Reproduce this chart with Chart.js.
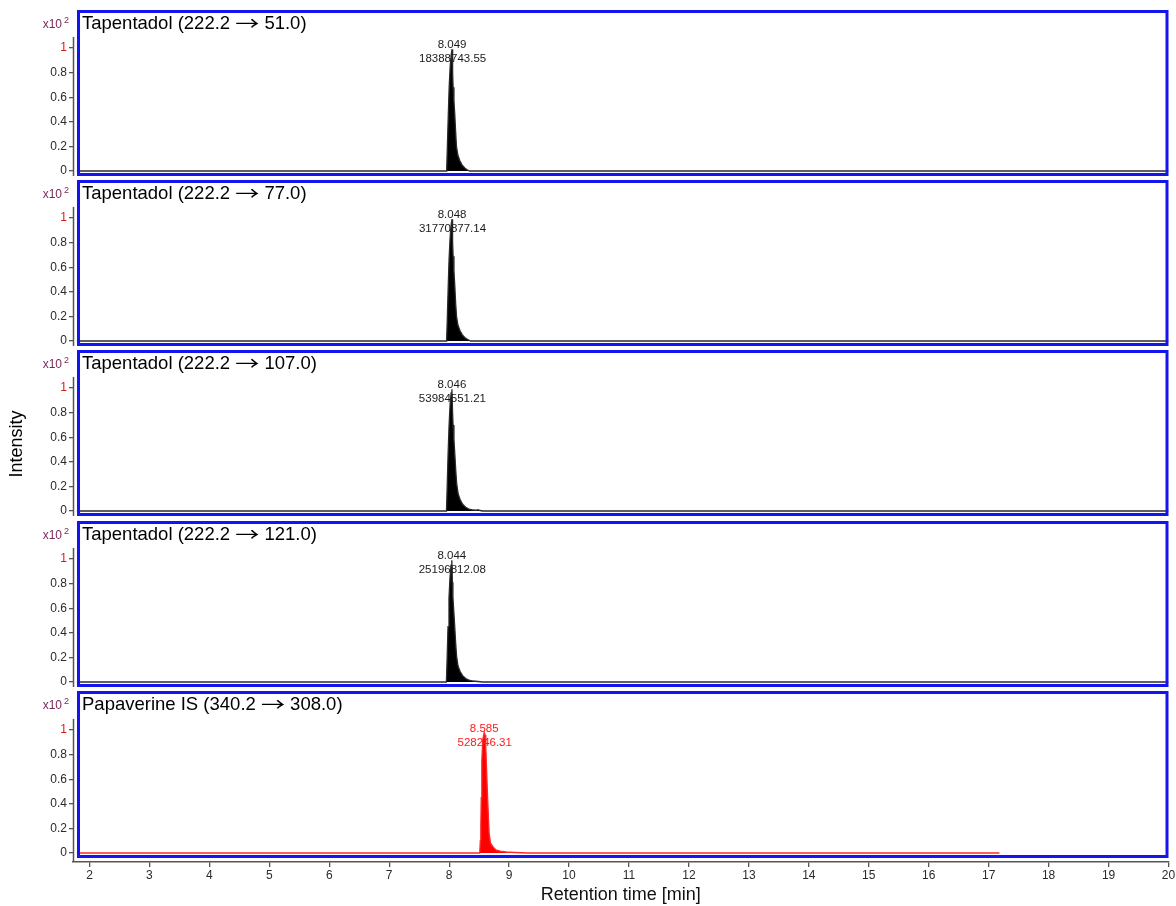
<!DOCTYPE html>
<html>
<head>
<meta charset="utf-8">
<script src="https://cdn.jsdelivr.net/npm/chart.js@4.4.0/dist/chart.umd.min.js"></script>
<style>
  html, body { margin: 0; padding: 0; background: #ffffff; }
  #wrap { position: relative; width: 1176px; height: 906px; overflow: hidden; background: #ffffff; }
  #wrap canvas { position: absolute; left: 0; }
</style>
</head>
<body>
<div id="wrap"></div>
<script>
// ---- Chromatogram data (retention time in min, intensity in x10^2 units) ----
const panelTitles = [
  'Tapentadol (222.2 \u2192 51.0)',
  'Tapentadol (222.2 \u2192 77.0)',
  'Tapentadol (222.2 \u2192 107.0)',
  'Tapentadol (222.2 \u2192 121.0)',
  'Papaverine IS (340.2 \u2192 308.0)'
];
const peakTimes = [8.049, 8.048, 8.046, 8.044, 8.585];
const peakAreas = ['18388743.55', '31770877.14', '53984551.21', '25196812.08', '528246.31'];

const timeTap51 = [1.79, 7.958, 7.970, 7.985, 8.000, 8.018, 8.035, 8.049, 8.058, 8.066, 8.080, 8.094, 8.108, 8.122, 8.145, 8.177, 8.215, 8.260, 8.300, 8.340, 20.0];
const intTap51  = [0,    0,     0.20,  0.45,  0.68,  0.86,  0.95,  0.99,  0.80,  0.68,  0.57,  0.46,  0.32,  0.20,  0.13,  0.085, 0.050, 0.025, 0.010, 0,     0];

const timeTap77 = [1.79, 7.957, 7.969, 7.984, 7.999, 8.017, 8.034, 8.048, 8.057, 8.066, 8.080, 8.094, 8.108, 8.123, 8.146, 8.180, 8.220, 8.265, 8.310, 8.360, 20.0];
const intTap77  = [0,    0,     0.18,  0.44,  0.67,  0.85,  0.95,  0.99,  0.81,  0.69,  0.57,  0.45,  0.31,  0.20,  0.13,  0.085, 0.050, 0.027, 0.012, 0,     0];

const timeTap107 = [1.79, 7.955, 7.967, 7.982, 7.998, 8.016, 8.033, 8.046, 8.056, 8.065, 8.080, 8.095, 8.110, 8.126, 8.150, 8.185, 8.225, 8.275, 8.330, 8.400, 8.460, 8.480, 8.520, 8.560, 20.0];
const intTap107  = [0,    0,     0.20,  0.46,  0.69,  0.87,  0.96,  0.99,  0.82,  0.70,  0.58,  0.46,  0.33,  0.22,  0.14,  0.090, 0.055, 0.030, 0.016, 0.008, 0.006, 0.010, 0.004, 0,     0];

const timeTap121 = [1.79, 7.954, 7.966, 7.981, 7.997, 8.015, 8.031, 8.044, 8.054, 8.063, 8.078, 8.093, 8.108, 8.124, 8.148, 8.183, 8.225, 8.275, 8.330, 8.400, 8.480, 8.560, 20.0];
const intTap121  = [0,    0,     0.19,  0.45,  0.68,  0.86,  0.95,  0.99,  0.81,  0.69,  0.57,  0.45,  0.32,  0.21,  0.13,  0.085, 0.052, 0.028, 0.015, 0.008, 0.004, 0,     0];

const timePap = [1.79, 8.510, 8.520, 8.528, 8.535, 8.545, 8.560, 8.585, 8.600, 8.612, 8.623, 8.636, 8.650, 8.667, 8.690, 8.733, 8.780, 8.850, 8.950, 9.100, 9.300, 17.18];
const intPap  = [0,    0,     0.10,  0.21,  0.45,  0.75,  0.92,  0.98,  0.96,  0.85,  0.70,  0.52,  0.35,  0.16,  0.08,  0.05,  0.025, 0.015, 0.008, 0.004, 0,     0];

const panelTimes = [timeTap51, timeTap77, timeTap107, timeTap121, timePap];
const panelInts  = [intTap51, intTap77, intTap107, intTap121, intPap];

const xTickValues = [2, 3, 4, 5, 6, 7, 8, 9, 10, 11, 12, 13, 14, 15, 16, 17, 18, 19, 20];
const yTickValues = [0, 0.2, 0.4, 0.6, 0.8, 1];

// ---- Layout ----
const FONT = '"Liberation Sans", Arial, Helvetica, sans-serif';
const W = 1176;
const X_MIN = 1.725, X_MAX = 20;
const PX_PER_UNIT_Y = 123;              // pixel height of 1.0 on the intensity axis
const panelTop = [10, 180, 350, 521, 691];
const boxH = 166;                         // height of each framed panel
const baseOffset = [161, 161, 161, 161, 162]; // y=0 line measured from panel top
const lastAreaH = 171;                    // bottom panel plot area down to the time axis
const xAxisH = 44;
const BLUE = '#1414f0';
const AXIS_GRAY = '#555555';

// Title text with a long, thin arrow between the precursor and product ions
function drawPanelTitle(ctx, text, x, yBase) {
  const parts = text.split('\u2192');
  ctx.font = '18.5px ' + FONT;
  ctx.textAlign = 'left';
  ctx.textBaseline = 'alphabetic';
  ctx.fillText(parts[0], x, yBase);
  let cx = x + ctx.measureText(parts[0]).width;
  ctx.font = '18.5px "Noto Sans CJK JP", "DejaVu Sans", sans-serif';
  const aw = ctx.measureText('\u2192').width;
  const target = 24;
  ctx.save();
  ctx.translate(cx, yBase + 1);
  ctx.scale(target / aw, 1);
  ctx.fillText('\u2192', 0, 0);
  ctx.restore();
  cx += target;
  ctx.font = '18.5px ' + FONT;
  ctx.fillText(parts[1], cx, yBase);
}

const panelPlugin = {
  id: 'panelDecor',
  afterDatasetsDraw(chart, args, opts) {
    const { ctx, chartArea: a, scales } = chart;
    const y = scales.y;
    const x = scales.x;
    ctx.save();

    // vertical intensity axis line
    ctx.strokeStyle = AXIS_GRAY;
    ctx.lineWidth = 1.5;
    ctx.beginPath();
    ctx.moveTo(a.left + 0.5, y.getPixelForValue(1.09));
    ctx.lineTo(a.left + 0.5, opts.last ? a.bottom : a.bottom + 2);
    ctx.stroke();

    // blue panel frame
    const bl = a.left + 4, bt = a.top, br = a.right, bb = opts.last ? a.bottom - 4 : a.bottom;
    ctx.strokeStyle = BLUE;
    ctx.lineWidth = 3;
    ctx.strokeRect(bl + 1.5, bt + 1.5, br - bl - 3, bb - bt - 3);

    // panel title
    ctx.fillStyle = '#000000';
    drawPanelTitle(ctx, opts.title, bl + 5, bt + 19);

    // x10^2 exponent label
    ctx.fillStyle = '#7a2a5a';
    ctx.textBaseline = 'middle';
    ctx.font = '12px ' + FONT;
    ctx.textAlign = 'right';
    ctx.fillText('x10', 62, bt + 15);
    ctx.font = '9px ' + FONT;
    ctx.textAlign = 'left';
    ctx.fillText('2', 64, bt + 11);

    // peak annotation: retention time and area
    const px = x.getPixelForValue(opts.peakTime);
    const py = y.getPixelForValue(opts.peakY);
    ctx.fillStyle = opts.labelColor;
    ctx.font = '11.5px ' + FONT;
    ctx.textAlign = 'center';
    ctx.fillText(opts.peakTime.toFixed(3), px, py - 4);
    ctx.fillText(opts.area, px + 0.5, py + 10);

    // shared intensity axis title
    if (opts.yTitle) {
      ctx.translate(17, 444 - panelTop[2]);
      ctx.rotate(-Math.PI / 2);
      ctx.fillStyle = '#000000';
      ctx.font = '18px ' + FONT;
      ctx.textAlign = 'center';
      ctx.textBaseline = 'middle';
      ctx.fillText('Intensity', 0, 0);
    }
    ctx.restore();
  }
};

const wrap = document.getElementById('wrap');

for (let i = 0; i < 5; i++) {
  const last = i === 4;
  const canvas = document.createElement('canvas');
  const h = last ? lastAreaH + xAxisH : boxH;
  canvas.width = W;
  canvas.height = h;
  canvas.style.top = panelTop[i] + 'px';
  canvas.style.width = W + 'px';
  canvas.style.height = h + 'px';
  wrap.appendChild(canvas);

  const areaH = last ? lastAreaH : boxH;
  const yMax = baseOffset[i] / PX_PER_UNIT_Y;
  const yMin = -(areaH - baseOffset[i]) / PX_PER_UNIT_Y;

  const times = panelTimes[i];
  const ints = panelInts[i];
  const pts = times.map((t, k) => ({ x: t, y: ints[k] }));
  const apexIdx = times.indexOf(peakTimes[i]);

  const lineColor = last ? '#ff2a2a' : '#2b2b2b';
  const fillColor = last ? '#ff0000' : '#000000';

  new Chart(canvas, {
    type: 'line',
    data: {
      datasets: [{
        data: pts,
        borderColor: lineColor,
        borderWidth: 1.3,
        backgroundColor: fillColor,
        fill: 'origin',
        pointRadius: 0,
        tension: 0
      }]
    },
    options: {
      responsive: false,
      animation: false,
      devicePixelRatio: 1,
      layout: { padding: { left: 0, right: 7.5, top: 0, bottom: 0 } },
      plugins: {
        legend: { display: false },
        tooltip: { enabled: false },
        panelDecor: {
          last: last,
          title: panelTitles[i],
          peakTime: peakTimes[i],
          peakY: ints[apexIdx],
          area: peakAreas[i],
          labelColor: last ? '#ff1a1a' : '#1a1a1a',
          yTitle: i === 2
        }
      },
      scales: {
        x: {
          type: 'linear',
          min: X_MIN,
          max: X_MAX,
          display: last,
          afterBuildTicks: s => { s.ticks = xTickValues.map(v => ({ value: v })); },
          afterFit: s => {
            s.height = last ? xAxisH : 0;
            s.paddingLeft = 0;
            s.paddingRight = 0;
          },
          ticks: {
            autoSkip: false,
            maxRotation: 0,
            padding: 1,
            color: '#2a2a2a',
            font: { family: FONT, size: 12 },
            callback: v => String(v)
          },
          grid: { drawOnChartArea: false, drawTicks: true, tickLength: 5, color: AXIS_GRAY, lineWidth: 1.3 },
          border: { display: true, color: AXIS_GRAY, width: 1.5 },
          title: {
            display: true,
            text: 'Retention time [min]',
            color: '#111111',
            font: { family: FONT, size: 18 },
            padding: { top: 0, bottom: 0 }
          }
        },
        y: {
          min: yMin,
          max: yMax,
          afterBuildTicks: s => { s.ticks = yTickValues.map(v => ({ value: v })); },
          afterFit: s => {
            s.width = 73;
            s.paddingTop = 0;
            s.paddingBottom = 0;
          },
          ticks: {
            padding: 2,
            color: ctx => (ctx.tick && ctx.tick.value === 1 ? '#e01818' : '#2a2a2a'),
            font: { family: FONT, size: 12 },
            callback: v => String(v)
          },
          grid: { drawOnChartArea: false, drawTicks: true, tickLength: 4, color: AXIS_GRAY, lineWidth: 1.3 },
          border: { display: false }
        }
      }
    },
    plugins: [panelPlugin]
  });
}
</script>
</body>
</html>
